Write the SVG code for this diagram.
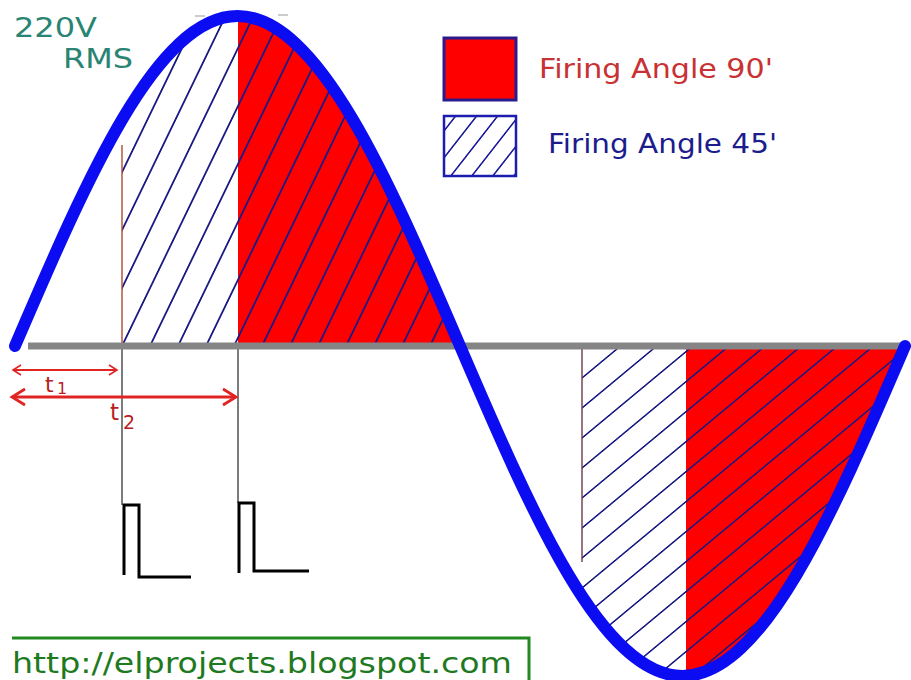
<svg xmlns="http://www.w3.org/2000/svg" width="911" height="680" viewBox="0 0 911 680">
<style>
.lbl{font-family:"DejaVu Sans","Liberation Sans",sans-serif}
.hatch{stroke:#1a1a84;stroke-width:2}
.arrow{stroke:#e02424;fill:none}
.guide{stroke:#444;stroke-width:1.4}
.pulse{stroke:#000;stroke-width:3;fill:none}
</style>
<defs>
<clipPath id="posLobe"><path d="M15,346 C87.57,176.94 156.98,16 237.5,16 C318.02,16 387.43,176.94 460,346 Z"/></clipPath>
<clipPath id="negLobe"><path d="M460,346 C532.57,515.06 601.98,676 682.5,676 C763.02,676 832.43,515.06 905,346 Z"/></clipPath>
<pattern id="hp" patternUnits="userSpaceOnUse" width="28" height="20" patternTransform="translate(136,346) skewX(-25.8)">
<line x1="14" y1="-1" x2="14" y2="21" class="hatch"/>
</pattern>
<pattern id="hn" patternUnits="userSpaceOnUse" width="40" height="30" patternTransform="translate(582,363) skewY(-39.7)">
<line x1="-1" y1="15" x2="41" y2="15" class="hatch"/>
</pattern>
<pattern id="hl" patternUnits="userSpaceOnUse" width="21" height="20" patternTransform="translate(440,177) skewX(-38)">
<line x1="10" y1="-1" x2="10" y2="21" stroke="#1c1c9c" stroke-width="2"/>
</pattern>
<marker id="ah1" markerUnits="userSpaceOnUse" markerWidth="12" markerHeight="14" refX="9" refY="6" orient="auto-start-reverse" viewBox="0 0 12 12">
<path d="M1,1 L9,6 L1,11" fill="none" stroke="#e02424" stroke-width="1.6"/>
</marker>
<marker id="ah2" markerUnits="userSpaceOnUse" markerWidth="18" markerHeight="20" refX="14" refY="9" orient="auto-start-reverse" viewBox="0 0 18 18">
<path d="M1,1 L14,9 L1,17" fill="none" stroke="#e02424" stroke-width="2.8"/>
</marker>
</defs>
<rect width="911" height="680" fill="#fff"/>

<g id="regions">
<g clip-path="url(#posLobe)"><rect x="238" y="0" width="222" height="346" fill="#ff0000"/></g>
<g clip-path="url(#negLobe)"><rect x="686" y="346" width="219" height="334" fill="#ff0000"/></g>
<g clip-path="url(#posLobe)"><rect x="122" y="0" width="338" height="346" fill="url(#hp)"/></g>
<g clip-path="url(#negLobe)"><rect x="582" y="346" width="323" height="334" fill="url(#hn)"/></g>
<line x1="122" y1="145" x2="122" y2="346" stroke="#b04a30" stroke-width="1.4"/>
<line x1="582" y1="346" x2="582" y2="562" stroke="#6a3a4a" stroke-width="1.4"/>
</g>

<g id="guides">
<line x1="122" y1="346" x2="122" y2="505" class="guide"/>
<line x1="238" y1="346" x2="238" y2="503" class="guide"/>
<line x1="195" y1="16" x2="205" y2="16" stroke="#999" stroke-width="1"/>
<line x1="278" y1="15" x2="288" y2="15" stroke="#999" stroke-width="1"/>
</g>

<g id="axis">
<line x1="28" y1="346" x2="905" y2="346" stroke="#858585" stroke-width="7"/>
</g>

<g id="waveform">
<path d="M15,346 C87.57,176.94 156.98,16 237.5,16 C318.02,16 387.43,176.94 460,346 C532.57,515.06 601.98,676 682.5,676 C763.02,676 832.43,515.06 905,346" fill="none" stroke="#0c0cf2" stroke-width="12" stroke-linecap="round"/>
</g>

<g id="connectors">
<line x1="13" y1="370" x2="117" y2="370" class="arrow" stroke-width="2" marker-start="url(#ah1)" marker-end="url(#ah1)"/>
<line x1="12" y1="397" x2="236" y2="397" class="arrow" stroke-width="3.2" marker-start="url(#ah2)" marker-end="url(#ah2)"/>
</g>

<g id="label-t1">
<text x="45" y="392" class="lbl" font-size="22" fill="#b82020">t</text>
<text x="57" y="394" class="lbl" font-size="16" fill="#b82020">1</text>
</g>
<g id="label-t2">
<text x="110" y="420" class="lbl" font-size="23" fill="#b82020">t</text>
<text x="123" y="429" class="lbl" font-size="19" fill="#b82020">2</text>
</g>

<g id="pulse1"><path d="M124,575 V505 H139 V577 H191" class="pulse"/></g>
<g id="pulse2"><path d="M239,573 V503 H254 V571 H309" class="pulse"/></g>

<g id="label-rms">
<text x="14" y="37" class="lbl" font-size="26" fill="#2a8474" textLength="83" lengthAdjust="spacingAndGlyphs">220V</text>
<text x="63" y="68" class="lbl" font-size="26" fill="#2a8474" textLength="70" lengthAdjust="spacingAndGlyphs">RMS</text>
</g>

<g id="legend-90">
<rect x="444" y="38" width="72" height="62" fill="#ff0000" stroke="#2a1a8c" stroke-width="3"/>
<text x="539" y="78" class="lbl" font-size="26" fill="#c83232" textLength="234" lengthAdjust="spacingAndGlyphs">Firing Angle 90'</text>
</g>
<g id="legend-45">
<rect x="444" y="116" width="72" height="60" fill="url(#hl)" stroke="#1c1cb0" stroke-width="2.5"/>
<text x="548" y="153" class="lbl" font-size="26" fill="#1c1c8c" textLength="229" lengthAdjust="spacingAndGlyphs">Firing Angle 45'</text>
</g>

<g id="url-box">
<path d="M12,638 H529 V680" fill="none" stroke="#208a20" stroke-width="3"/>
<text x="12" y="673" class="lbl" font-size="29" fill="#1f7a1f" textLength="500" lengthAdjust="spacingAndGlyphs">http://elprojects.blogspot.com</text>
</g>
</svg>
